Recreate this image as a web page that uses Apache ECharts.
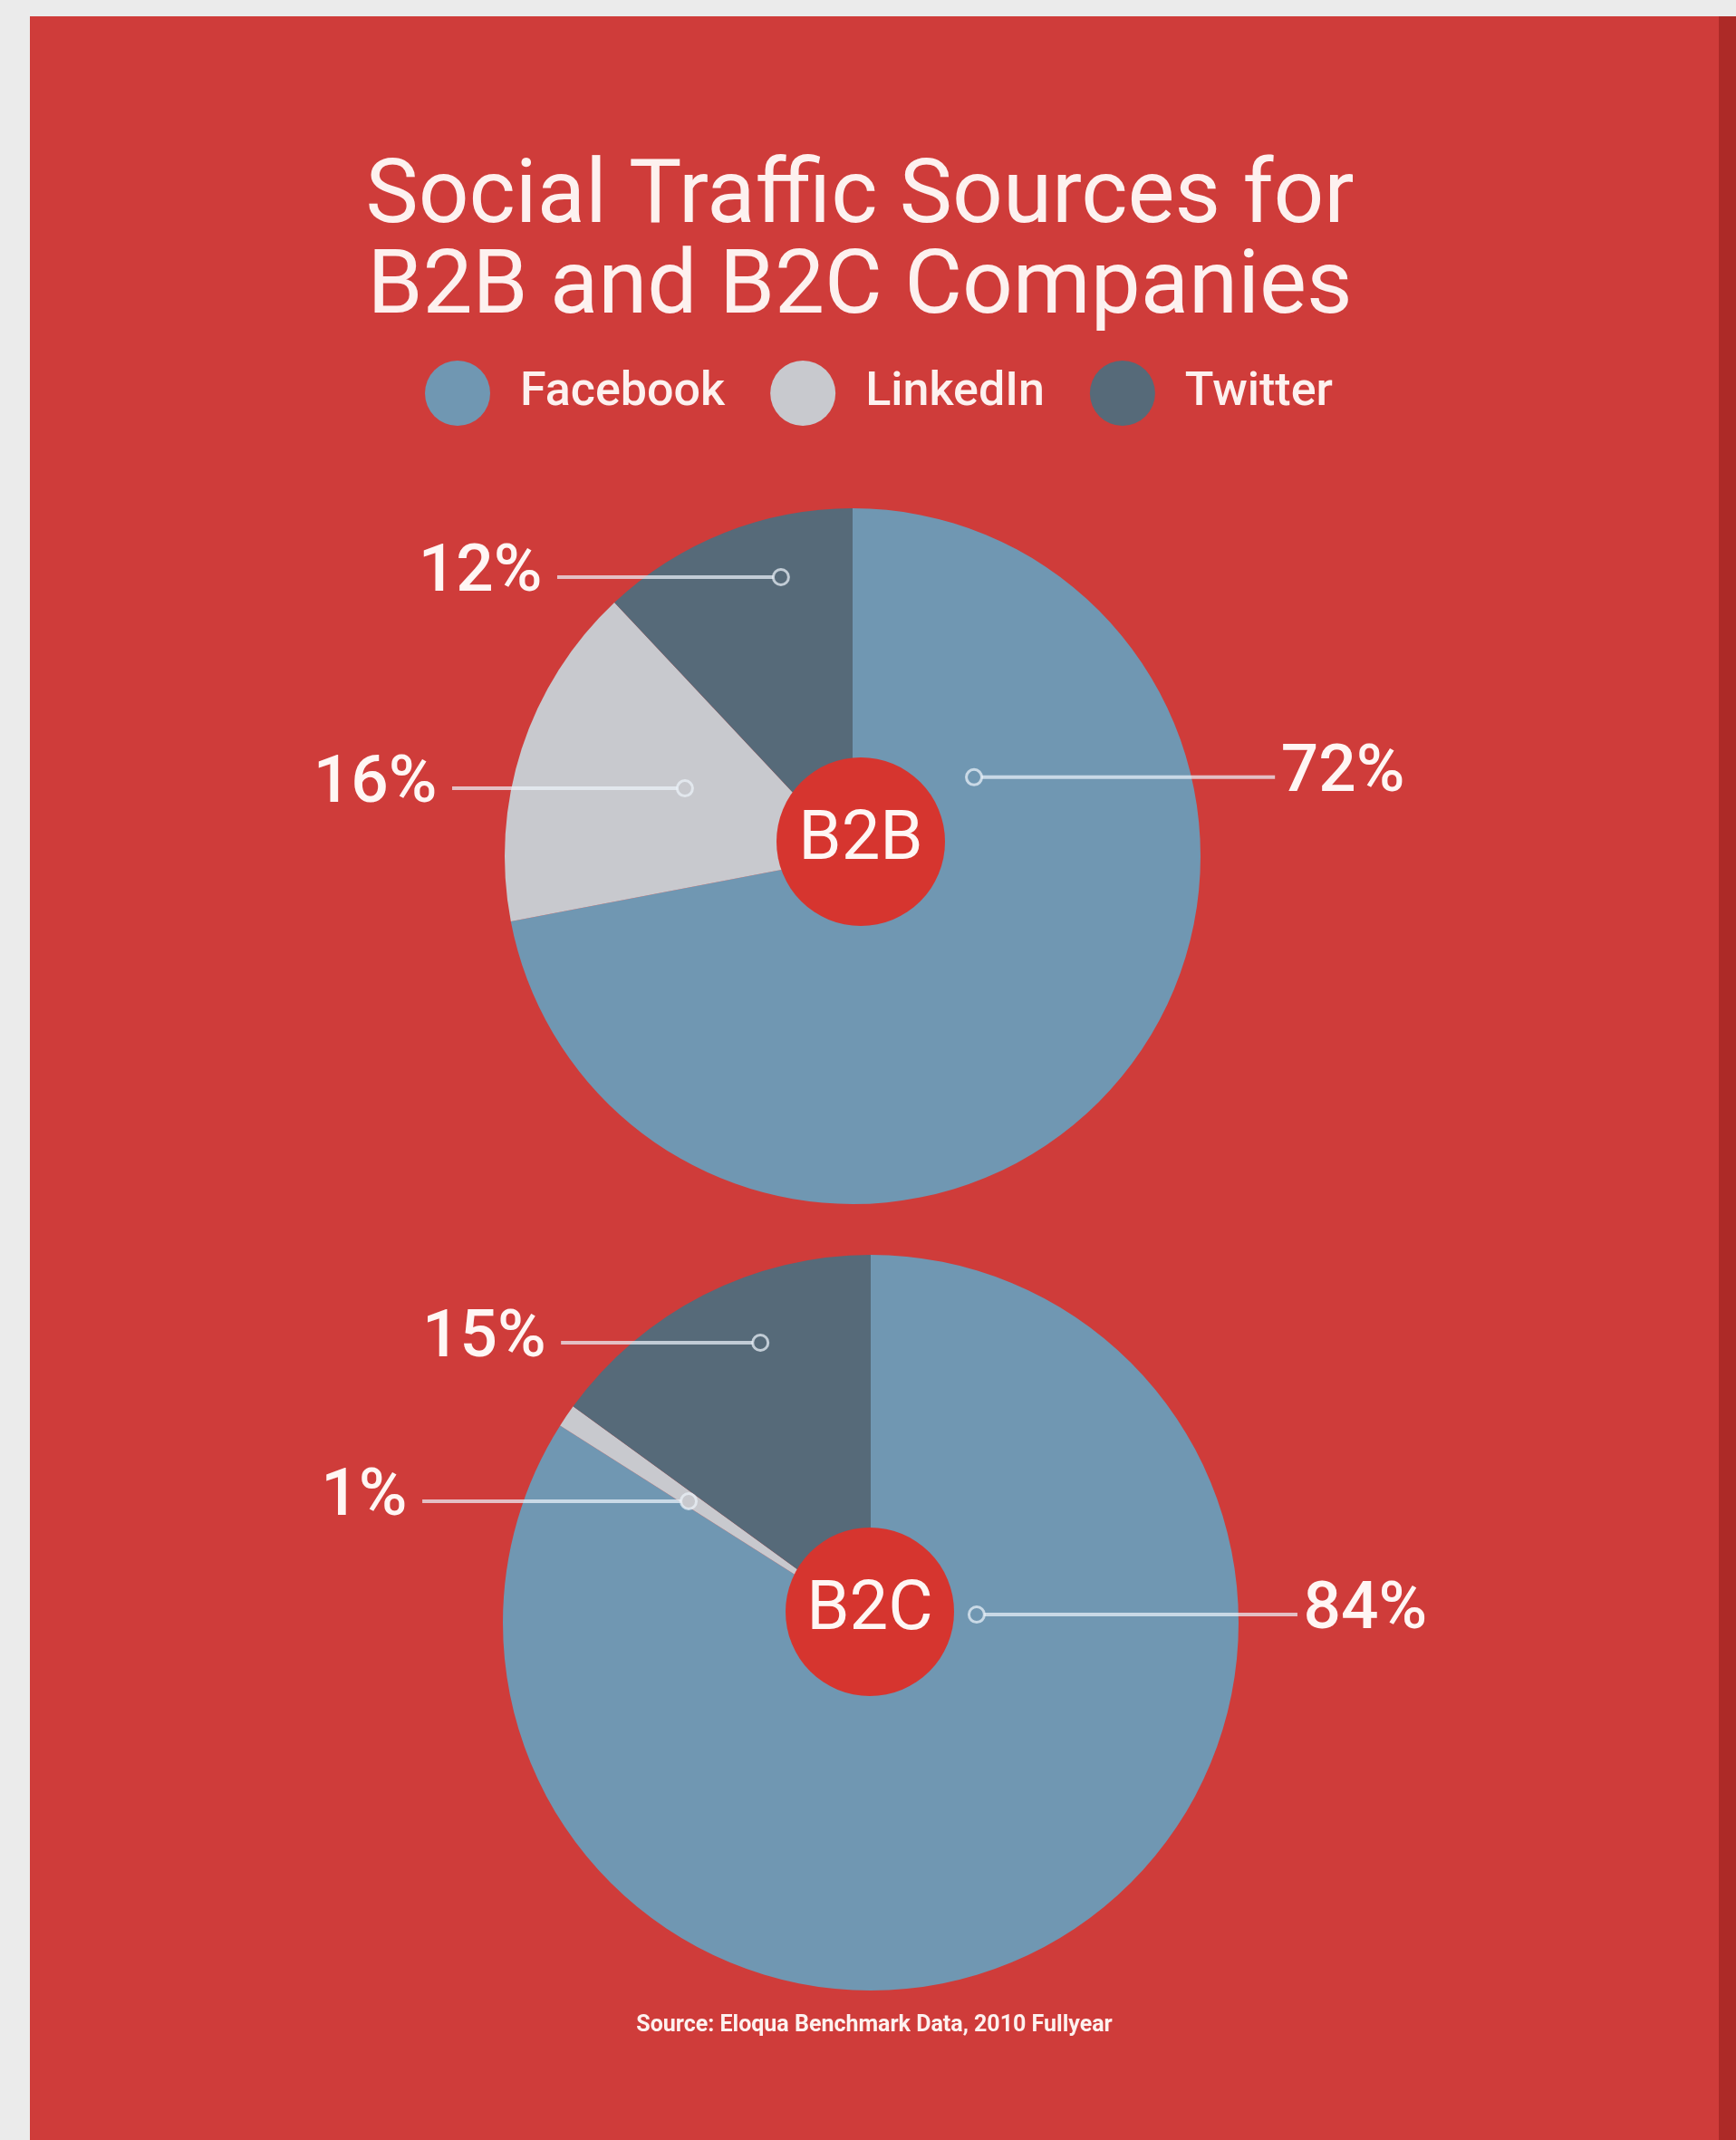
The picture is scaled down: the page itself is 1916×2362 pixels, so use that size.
<!DOCTYPE html>
<html><head><meta charset="utf-8">
<script src="https://cdn.jsdelivr.net/npm/echarts@6/dist/echarts.min.js"></script>
<style>
html,body{margin:0;padding:0;background:#ebebeb;width:1916px;height:2362px;overflow:hidden}
#panel{position:absolute;left:33px;top:18px;width:1864px;height:2344px;background:#cf3c3a;border-right:19px solid #ad2a27}
#chart{width:1864px;height:2344px}
</style></head><body><div id="panel"><div id="chart"></div></div>
<script>
// ---- data ----
const titleLines = ['Social Traffic Sources for', 'B2B and B2C Companies'];
const categories = ['Facebook', 'LinkedIn', 'Twitter'];
const groups = ['B2B', 'B2C'];
const b2bShares = [72, 16, 12];
const b2cShares = [84, 1, 15];
const sourceNote = 'Source: Eloqua Benchmark Data, 2010 Fullyear';

// ---- layout & style ----
const FONT = 'Roboto, "Liberation Sans", sans-serif';
const sliceColors = ['#7097b2', '#c8c9ce', '#566a79'];
const hubColor = '#d6352f';
const leaderColor = 'rgba(236,243,249,0.72)';
const pieLayout = [
  { cx: 908, cy: 927, r: 384, hubX: 917, hubY: 911, hubR: 93 },
  { cx: 928, cy: 1773, r: 406, hubX: 927, hubY: 1761, hubR: 93 }
];
// leader anchor (mx,my) and outer end (ex) in units of pie radius, y up
const leaderLayout = [
  [{ mx: 0.349, my: 0.227, ex: 1.214 }, { mx: -0.482, my: 0.195, ex: -1.151 }, { mx: -0.206, my: 0.802, ex: -0.849 }],
  [{ mx: 0.288, my: 0.022, ex: 1.160 }, { mx: -0.495, my: 0.330, ex: -1.219 }, { mx: -0.300, my: 0.761, ex: -0.842 }]
];
const SPAN_X = 1.5, SPAN_Y = 1; // helper grid half-extent in pie radii
const shares = [b2bShares, b2cShares];

const chart = echarts.init(document.getElementById('chart'), null, { renderer: 'canvas' });

const grids = pieLayout.map(p => ({ left: p.cx - SPAN_X * p.r, top: p.cy - SPAN_Y * p.r, width: 2 * SPAN_X * p.r, height: 2 * SPAN_Y * p.r }));
const xAxes = pieLayout.map((p, i) => ({ type: 'value', gridIndex: i, min: -SPAN_X, max: SPAN_X, show: false }));
const yAxes = pieLayout.map((p, i) => ({ type: 'value', gridIndex: i, min: -SPAN_Y, max: SPAN_Y, show: false }));

const series = [];
groups.forEach((g, gi) => {
  const p = pieLayout[gi];
  series.push({
    type: 'pie', name: g, center: [p.cx, p.cy], radius: [0, p.r],
    startAngle: 90, clockwise: true, silent: true, animation: false,
    label: { show: false }, labelLine: { show: false },
    itemStyle: { borderWidth: 0 },
    data: categories.map((c, ci) => ({ name: c, value: shares[gi][ci], itemStyle: { color: sliceColors[ci] } }))
  });
  series.push({
    type: 'pie', name: g + ' hub', center: [p.hubX, p.hubY], radius: [0, p.hubR],
    silent: true, animation: false, z: 4,
    itemStyle: { color: hubColor, borderWidth: 0 },
    label: { show: true, position: 'center', formatter: '{b}', color: '#fff6f4', fontSize: 76, fontFamily: FONT },
    labelLine: { show: false },
    data: [{ name: g, value: 1 }]
  });
  categories.forEach((c, ci) => {
    const L = leaderLayout[gi][ci];
    const right = L.ex > 0;
    series.push({
      type: 'line', name: g + ' ' + c + ' leader', xAxisIndex: gi, yAxisIndex: gi,
      silent: true, animation: false, z: 5,
      lineStyle: { color: leaderColor, width: 4 },
      itemStyle: { color: sliceColors[ci], borderColor: leaderColor, borderWidth: 3 },
      data: [
        { value: [L.mx, L.my], symbol: 'circle', symbolSize: 17 },
        { value: [L.ex, L.my], symbol: 'circle', symbolSize: 1,
          itemStyle: { color: 'rgba(0,0,0,0)', borderWidth: 0 },
          label: { show: true, position: right ? 'right' : 'left', distance: right ? 6 : 16, offset: [0, -3],
            formatter: shares[gi][ci] + '%', color: '#fff6f4', fontSize: 73, fontWeight: 500, fontFamily: FONT } }
      ]
    });
  });
});

chart.setOption({
  backgroundColor: 'transparent',
  animation: false,
  title: [
    { text: titleLines.join('\n'), left: 916, top: 152, textAlign: 'center', padding: 0,
      textStyle: { color: '#fdf1ef', fontSize: 98, lineHeight: 100, fontWeight: 'normal', fontFamily: FONT } },
    { text: sourceNote, left: 932, top: 2205, textAlign: 'center', padding: 0,
      textStyle: { color: '#fdf1ef', fontSize: 25, fontWeight: 'bold', fontFamily: FONT } }
  ],
  legend: {
    data: categories, left: 436, top: 380, padding: 0, orient: 'horizontal',
    icon: 'circle', itemWidth: 72, itemHeight: 72, itemGap: 50,
    selectedMode: false,
    textStyle: { color: '#fdf1ef', fontSize: 52, fontWeight: 500, fontFamily: FONT, padding: [0, 0, 0, 28] }
  },
  grid: grids,
  xAxis: xAxes,
  yAxis: yAxes,
  series: series
});
</script></body></html>
